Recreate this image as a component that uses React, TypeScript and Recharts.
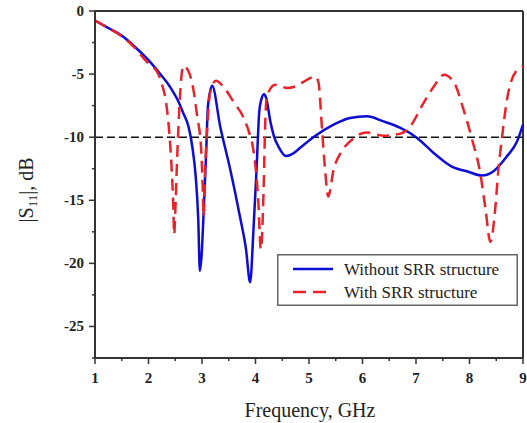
import React from "react";
import { LineChart, Line, XAxis, YAxis, ReferenceLine, Legend } from "recharts";

// |S11|, GHz / dB
const withoutSrrFreq = [
  1.0, 1.25, 1.5, 1.75, 2.0, 2.2, 2.4, 2.55, 2.65, 2.75, 2.82, 2.88, 2.93, 2.96,
  2.99, 3.04, 3.08, 3.11, 3.19, 3.34, 3.53, 3.71, 3.82, 3.9, 3.96, 4.02, 4.07,
  4.11, 4.16, 4.2, 4.28, 4.35, 4.43, 4.57, 4.7, 4.83, 5.08, 5.46, 5.77, 6.08,
  6.39, 6.71, 7.02, 7.33, 7.55, 7.7, 7.95, 8.23, 8.45, 8.7, 8.89, 9.0,
];
const withoutSrrS11 = [
  -0.75, -1.35, -1.95, -2.85, -3.9, -4.9, -6.0, -7.1, -8.1, -9.2, -10.8, -13.0,
  -16.5, -20.6, -19.5, -15.0, -11.0, -7.6, -5.93, -9.15, -12.6, -16.3, -18.8,
  -21.5, -17.5, -12.5, -8.0, -7.0, -6.6, -6.9, -8.8, -10.0, -10.75, -11.5,
  -11.3, -10.86, -10.0, -9.0, -8.48, -8.35, -8.75, -9.27, -10.06, -11.25, -12.0,
  -12.4, -12.7, -13.04, -12.7, -11.52, -10.33, -9.0,
];

const withSrrFreq = [
  1.0, 1.25, 1.5, 1.75, 1.9, 2.0, 2.1, 2.15, 2.25, 2.33, 2.39, 2.43, 2.46, 2.48,
  2.5, 2.53, 2.56, 2.6, 2.65, 2.75, 2.84, 2.91, 2.98, 3.01, 3.03, 3.06, 3.1,
  3.15, 3.26, 3.4, 3.59, 3.77, 3.9, 3.96, 4.05, 4.1, 4.15, 4.18, 4.21, 4.37,
  4.6, 4.77, 4.96, 5.12, 5.18, 5.24, 5.3, 5.36, 5.46, 5.61, 5.77, 6.08, 6.39,
  6.71, 6.89, 7.14, 7.33, 7.52, 7.7, 7.89, 8.05, 8.2, 8.3, 8.39, 8.48, 8.54,
  8.61, 8.7, 8.89, 9.0,
];
const withSrrS11 = [
  -0.75, -1.35, -2.0, -2.95, -3.7, -4.15, -4.5, -4.75, -5.8, -7.3, -9.7, -12.3,
  -15.0, -17.7, -16.0, -12.3, -9.15, -6.0, -4.35, -4.8, -6.25, -8.35, -10.7,
  -13.5, -16.3, -12.3, -9.15, -6.5, -5.53, -6.0, -7.2, -8.4, -9.9, -11.0, -14.9,
  -18.9, -14.4, -9.15, -6.77, -5.85, -6.1, -5.93, -5.45, -5.19, -5.72, -9.15,
  -12.57, -14.7, -12.57, -11.12, -10.33, -9.62, -9.88, -9.72, -9.15, -7.3, -6.0,
  -5.06, -5.59, -7.83, -10.2, -12.83, -15.73, -18.3, -15.73, -12.57, -9.94,
  -7.04, -4.66, -4.4,
];

const xTicks = [1, 1.5, 2, 2.5, 3, 3.5, 4, 4.5, 5, 5.5, 6, 6.5, 7, 7.5, 8, 8.5, 9];
const yTicks = [0, -2.5, -5, -7.5, -10, -12.5, -15, -17.5, -20, -22.5, -25, -27.5];
const seriesNames = ["Without SRR structure", "With SRR structure"];

const withoutSrrData = withoutSrrFreq.map((f, i) => ({ f, s11: withoutSrrS11[i] }));
const withSrrData = withSrrFreq.map((f, i) => ({ f, s11: withSrrS11[i] }));

const SERIF = "'Liberation Serif', 'Times New Roman', serif";
const BLUE = "#0c0cd6";
const RED = "#e8232a";
const AXIS = "#333";

const XTick = (props: any) => {
  const { x, y, payload } = props;
  const major = Number.isInteger(payload.value);
  return (
    <g>
      <line x1={x} x2={x} y1={y} y2={y + (major ? 6 : 3)} stroke={AXIS} strokeWidth={1.5} />
      {major && (
        <text x={x} y={y + 25} textAnchor="middle" fontFamily={SERIF} fontWeight="bold" fontSize={15} fill="#222">
          {payload.value}
        </text>
      )}
    </g>
  );
};

const YTick = (props: any) => {
  const { x, y, payload } = props;
  const major = payload.value % 5 === 0;
  return (
    <g>
      <line x1={x - (major ? 6 : 3)} x2={x} y1={y} y2={y} stroke={AXIS} strokeWidth={1.5} />
      {major && (
        <text x={x - 11} y={y + 5} textAnchor="end" fontFamily={SERIF} fontWeight="bold" fontSize={15} fill="#222">
          {payload.value}
        </text>
      )}
    </g>
  );
};

const XTitle = () => (
  <text x={310} y={417} textAnchor="middle" fontFamily={SERIF} fontSize={20} fill="#222">
    Frequency, GHz
  </text>
);

const YTitle = () => (
  <text transform="translate(33, 190) rotate(-90)" textAnchor="middle" fontFamily={SERIF} fontSize={20} fill="#222">
    |S
    <tspan fontSize={13} dy={4}>11</tspan>
    <tspan dy={-4}>|, dB</tspan>
  </text>
);

const renderLegend = () => (
  <svg width={241} height={52}>
    <rect x={0.75} y={0.75} width={239.5} height={50.5} fill="#fff" stroke="#666" strokeWidth={1.5} />
    <line x1={16} x2={56} y1={15} y2={15} stroke={BLUE} strokeWidth={2.5} />
    <text x={67} y={21} fontFamily={SERIF} fontSize={17} fill="#222">
      {seriesNames[0]}
    </text>
    <line x1={16} x2={56} y1={38} y2={38} stroke={RED} strokeWidth={2.5} strokeDasharray="13 7" />
    <text x={67} y={44} fontFamily={SERIF} fontSize={17} fill="#222">
      {seriesNames[1]}
    </text>
  </svg>
);

export default function App() {
  return (
    <div style={{ position: "absolute", left: 0, top: 0, background: "#fff" }}>
      <LineChart width={527} height={423} margin={{ top: 11, right: 4, left: 0, bottom: 0 }}>
        <XAxis
          type="number"
          dataKey="f"
          domain={[1, 9]}
          ticks={xTicks}
          interval={0}
          tickSize={0}
          tickMargin={0}
          tickLine={false}
          tick={<XTick />}
          height={65}
          axisLine={{ stroke: AXIS, strokeWidth: 2 }}
          label={XTitle}
        />
        <YAxis
          type="number"
          domain={[-27.5, 0]}
          ticks={yTicks}
          interval={0}
          tickSize={0}
          tickMargin={0}
          tickLine={false}
          tick={<YTick />}
          width={95}
          axisLine={{ stroke: AXIS, strokeWidth: 2 }}
          label={YTitle}
        />
        <ReferenceLine y={0} stroke={AXIS} strokeWidth={2} />
        <ReferenceLine x={9} stroke={AXIS} strokeWidth={2} />
        <ReferenceLine y={-10} stroke="#111" strokeWidth={1.5} strokeDasharray="8 4" />
        <Line
          data={withoutSrrData}
          dataKey="s11"
          name={seriesNames[0]}
          type="monotone"
          stroke={BLUE}
          strokeWidth={2.5}
          dot={false}
          activeDot={false}
          isAnimationActive={false}
        />
        <Line
          data={withSrrData}
          dataKey="s11"
          name={seriesNames[1]}
          type="monotone"
          stroke={RED}
          strokeWidth={2.5}
          strokeDasharray="12 7"
          dot={false}
          activeDot={false}
          isAnimationActive={false}
        />
        <Legend
          layout="vertical"
          align="center"
          verticalAlign="middle"
          wrapperStyle={{ left: 277, top: 254, width: 241, height: 52 }}
          content={renderLegend}
        />
      </LineChart>
    </div>
  );
}
